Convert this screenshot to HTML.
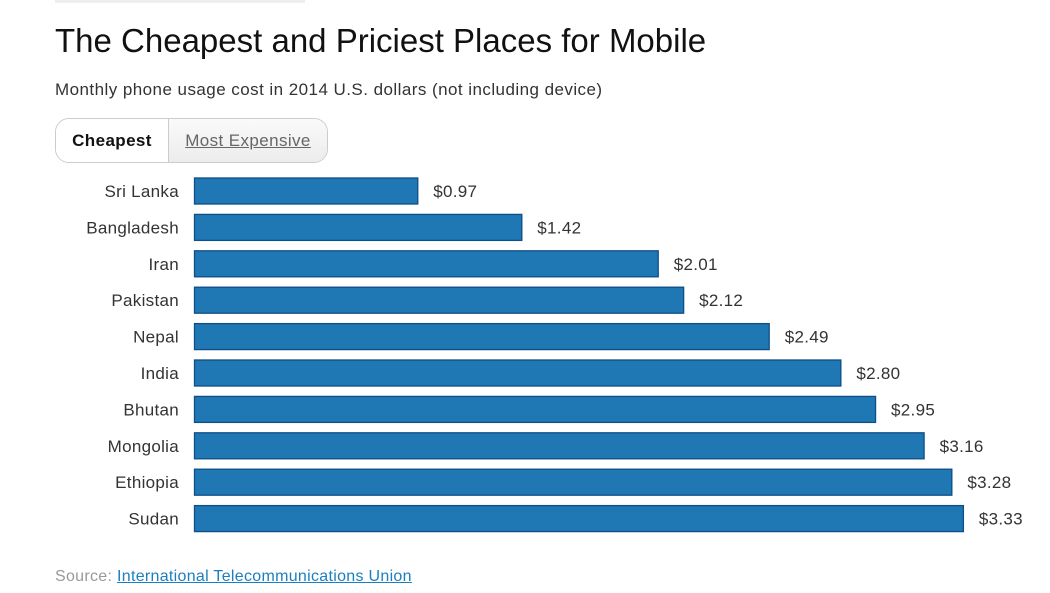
<!DOCTYPE html>
<html><head><meta charset="utf-8"><style>
body{margin:0;width:1050px;height:593px;background:#fff;font-family:"Liberation Sans",Arial,sans-serif;position:relative;overflow:hidden}
.topline{position:absolute;left:55px;top:0;width:250px;height:3px;background:#eee}
h1{position:absolute;left:55px;top:22px;margin:0;font-weight:normal;font-size:33px;color:#111}
.sub{position:absolute;left:55px;top:80px;font-size:17px;letter-spacing:0.45px;color:#333}
.toggle{position:absolute;left:55px;top:118px;width:271px;height:43px;border:1px solid #ccc;border-radius:14px;overflow:hidden;display:flex;font-size:17px}
.tb{display:flex;align-items:center;justify-content:center}
.t1{width:112px;background:#fff;font-weight:bold;color:#111;border-right:1px solid #ccc;letter-spacing:0.4px}
.t2{flex:1;background:linear-gradient(#fafafa,#ececec);color:#666;text-decoration:underline;letter-spacing:0.4px}
.src{position:absolute;left:55px;top:568px;font-size:16px;letter-spacing:0.3px;color:#999}
.src a{color:#1a7fc1;text-decoration:underline}
svg{position:absolute;left:0;top:0}
</style></head><body>
<div class="topline"></div>
<h1>The Cheapest and Priciest Places for Mobile</h1>
<div class="sub">Monthly phone usage cost in 2014 U.S. dollars (not including device)</div>
<div class="toggle">
<div class="tb t1">Cheapest</div>
<div class="tb t2">Most Expensive</div>
</div>
<svg id="chart" width="1050" height="593"></svg>
<div class="src">Source: <a>International Telecommunications Union</a></div>
<script>
const categories=["Sri Lanka","Bangladesh","Iran","Pakistan","Nepal","India","Bhutan","Mongolia","Ethiopia","Sudan"];
const values=[0.97,1.42,2.01,2.12,2.49,2.80,2.95,3.16,3.28,3.33];
const labels=["$0.97","$1.42","$2.01","$2.12","$2.49","$2.80","$2.95","$3.16","$3.28","$3.33"];
const NS="http://www.w3.org/2000/svg";
const svg=document.getElementById('chart');
const x0=194, pxPer=231.2, top0=177.5, step=36.4, bh=27;
const xs=v=>v*pxPer;
const ys=i=>top0+i*step;
function mk(t,a){const e=document.createElementNS(NS,t);for(const k in a)e.setAttribute(k,a[k]);svg.appendChild(e);return e;}
categories.forEach((c,i)=>{
  const y=ys(i), w=xs(values[i]);
  const r=mk('rect',{x:x0+0.5,y:y+0.5,width:w-1,height:bh-1,fill:'#1f77b4',stroke:'#0d4f86','stroke-width':1.3});
  
  
  const l=mk('text',{x:179,y:y+bh/2+6,'text-anchor':'end','font-size':17,'letter-spacing':0.3,fill:'#333','font-family':'Liberation Sans, sans-serif'});
  l.textContent=c;
  
  
  const v=mk('text',{x:x0+w+15,y:y+bh/2+6,'font-size':17,'letter-spacing':0.3,fill:'#333','font-family':'Liberation Sans, sans-serif'});
  v.textContent=labels[i];
  
  
});
</script>
</body></html>
